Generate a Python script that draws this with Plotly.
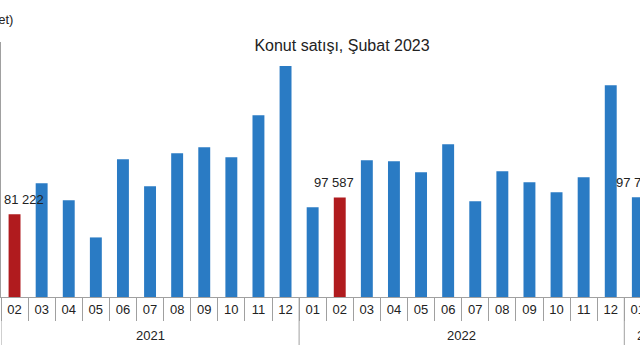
import plotly.graph_objects as go

# ---- data ----
years = ["2021"] * 11 + ["2022"] * 12 + ["2023"] * 2
months = ["02", "03", "04", "05", "06", "07", "08", "09", "10", "11", "12",
          "01", "02", "03", "04", "05", "06", "07", "08", "09", "10", "11", "12",
          "01", "02"]
sales = [81222, 111400, 94800, 58400, 135000, 108500, 140900, 146800, 137000, 178200, 226400,
         88000, 97587, 134000, 133000, 122300, 149800, 93800, 123200, 112400, 102600, 117300, 207700,
         97765, None]
highlight = [("2021", "02"), ("2022", "02"), ("2023", "02")]
labelled = [("2021", "02"), ("2022", "02"), ("2023", "01")]
label_shift = [9, -6, -2]

BLUE = "#2a7bc4"
RED = "#b01b1e"
AXIS = "#a0a0a0"
FONT = "Liberation Sans, Arial"
CELL = 27.1  # px per category

keys = [f"{y}-{m}" for y, m in zip(years, months)]
colors = [RED if (y, m) in highlight else BLUE for y, m in zip(years, months)]

fig = go.Figure()
fig.add_trace(go.Bar(
    x=keys, y=sales,
    marker=dict(color=colors, line=dict(width=0)),
    width=0.44,
    hoverinfo="skip",
))

def fmt(v):
    return f"{v:,}".replace(",", " ")

for (yy, mm), sh in zip(labelled, label_shift):
    idx = keys.index(f"{yy}-{mm}")
    fig.add_annotation(
        x=keys[idx], y=sales[idx], xref="x", yref="y",
        text=fmt(sales[idx]), showarrow=False,
        yanchor="bottom", xanchor="center", xshift=sh, yshift=5,
        font=dict(family=FONT, size=13, color="#222"),
    )

# year group labels and dividers
plot_h = 255
div_bottom = -(345 - 297) / plot_h
year_y = -(335 - 297) / plot_h
groups = []
for i, y in enumerate(years):
    if not groups or groups[-1][0] != y:
        groups.append([y, i, i])
    else:
        groups[-1][2] = i
for y, a, b in groups:
    fig.add_annotation(
        x=a, y=year_y, xref="x", yref="paper", text=y, showarrow=False,
        xanchor="center", yanchor="middle", xshift=(b - a) / 2 * CELL,
        font=dict(family=FONT, size=13, color="#222"),
    )
    fig.add_shape(type="line", xref="x", yref="paper", x0=a - 0.5, x1=a - 0.5,
                  y0=0, y1=div_bottom, line=dict(color=AXIS, width=1))

fig.add_annotation(
    text="(Adet)", xref="paper", yref="paper", x=0, y=(297 - 19) / plot_h,
    xanchor="right", yanchor="middle", xshift=14, showarrow=False,
    font=dict(family=FONT, size=13, color="#222"),
)

fig.update_layout(
    width=640, height=360,
    margin=dict(l=1, r=0, t=42, b=63, pad=0, autoexpand=False),
    paper_bgcolor="white", plot_bgcolor="white",
    showlegend=False,
    title=dict(text="Konut satışı, Şubat 2023", x=342 / 640, xref="container", xanchor="center",
               y=1 - 45 / 360, yref="container", yanchor="middle",
               font=dict(family=FONT, size=16, color="#222")),
    font=dict(family=FONT, size=13, color="#222"),
)
fig.update_xaxes(
    type="category", automargin=False,
    range=[-0.5, -0.5 + 639 / CELL],
    tickmode="array", tickvals=keys, ticktext=months, tickson="boundaries",
    showline=True, linecolor=AXIS, linewidth=1,
    ticks="outside", ticklen=23, tickcolor=AXIS,
    tickfont=dict(size=13, color="#222"),
    showgrid=False,
)
fig.update_yaxes(
    range=[0, 250000], dtick=50000, automargin=False,
    showline=True, linecolor=AXIS, linewidth=1,
    ticks="outside", ticklen=3, tickcolor="#808080",
    showticklabels=False, showgrid=False, zeroline=False,
)

fig.write_html("out.html")
